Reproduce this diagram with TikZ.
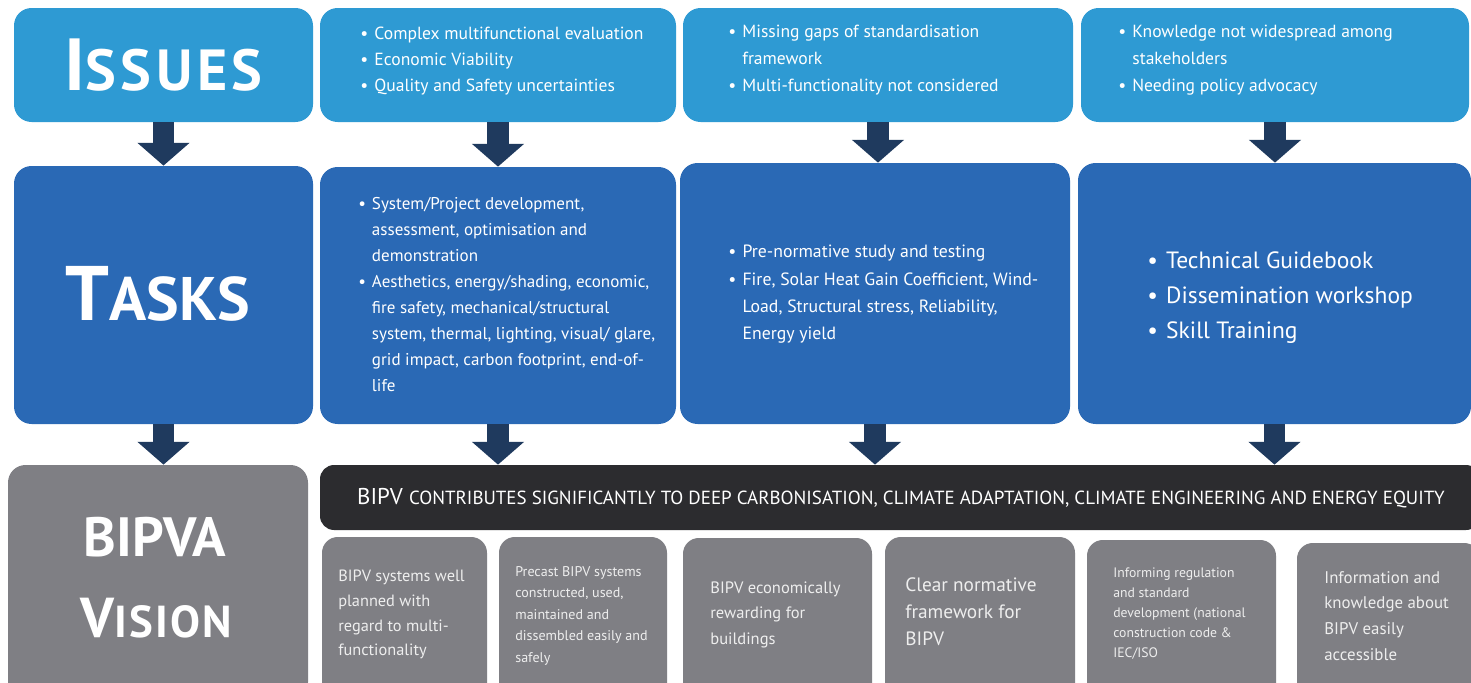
\documentclass[tikz,border=0pt]{standalone}
\usepackage{fontspec}
\setmainfont{PT Sans}
\usetikzlibrary{arrows.meta,fit}

\definecolor{issueblue}{HTML}{2E9AD3}
\definecolor{taskblue}{HTML}{2A69B5}
\definecolor{arrownavy}{HTML}{1F3A5E}
\definecolor{visiongray}{HTML}{7F7F84}
\definecolor{bardark}{HTML}{2C2C2F}
\definecolor{goalwhite}{HTML}{EEEEEE}
\newcommand{\bul}{\makebox[0.8em][l]{\textbullet}}
\newcommand{\ind}{\hspace{0.8em}}

\begin{document}
\begin{tikzpicture}[x=0.02cm, y=-0.02cm,
    issuebox/.style={fill=issueblue, inner sep=0pt, rounded corners=10pt},
    taskbox/.style={fill=taskblue, inner sep=0pt, rounded corners=10pt},
    visionbox/.style={fill=visiongray, inner sep=0pt, rounded corners=10pt},
    goalbox/.style={fill=visiongray, inner sep=0pt, rounded corners=9pt},
    barbox/.style={fill=bardark, inner sep=0pt, rounded corners=8pt},
    headtext/.style={text=white, font=\bfseries, anchor=base, inner sep=0pt},
    itemtext/.style={text=white, align=left, anchor=north west, inner sep=0pt},
    goalitems/.style={text=goalwhite, align=left, anchor=north west, inner sep=0pt},
    bigarrow/.style={draw=arrownavy, line width=12pt, -{Triangle[width=29pt,length=13pt]}}]
\clip (0,0) rectangle (1471,683);
\fill[white] (0,0) rectangle (1471,683);
% fila 1: problemas
\node[issuebox, fit={(14,8) (313,122)}] (iL) {};
\node[issuebox, fit={(320,8) (676,122)}] (iA) {};
\node[issuebox, fit={(683,8) (1073,122)}] (iB) {};
\node[issuebox, fit={(1081,8) (1469,122)}] (iC) {};
% fila 2: tareas
\node[taskbox, fit={(14,166) (313,424)}] (tL) {};
\node[taskbox, fit={(320,167) (676,424)}] (tA) {};
\node[taskbox, fit={(680,163) (1070,424)}] (tB) {};
\node[taskbox, fit={(1078,163) (1471,424)}] (tC) {};
% fila 3: vision
\node[visionbox, fit={(8,465) (308,700)}] (vL) {};
\node[barbox, fit={(320,465) (1480,530)}] (bar) {};
\node[goalbox, fit={(322,537) (487,700)}] (g1) {};
\node[goalbox, fit={(499,537) (667,700)}] (g2) {};
\node[goalbox, fit={(683,538) (872,700)}] (g3) {};
\node[goalbox, fit={(885,537) (1075,700)}] (g4) {};
\node[goalbox, fit={(1087,540) (1276,700)}] (g5) {};
\node[goalbox, fit={(1297,543) (1480,700)}] (g6) {};

\draw[bigarrow] (iL.south) -- (tL.north);
\draw[bigarrow] (iA.south) -- (tA.north);
\draw[bigarrow] (iB.south) -- (iB.south |- tB.north);
\draw[bigarrow] (iC.south) -- (iC.south |- tC.north);
\draw[bigarrow] (tL.south) -- (tL.south |- vL.north);
\draw[bigarrow] (tA.south) -- (tA.south |- bar.north);
\draw[bigarrow] (tB.south) -- (tB.south |- bar.north);
\draw[bigarrow] (tC.south) -- (tC.south |- bar.north);

\node[headtext] (issuesT) at (iL.center |- 0,90) {\addfontfeatures{LetterSpace=8}\fontsize{42}{42}\selectfont I\fontsize{33}{33}\selectfont SSUES};
\node[headtext] (tasksT) at (158,320) {\fontsize{44}{44}\selectfont T\fontsize{35}{35}\selectfont ASKS};
\node[headtext] (bipvaT) at (155,556) {\fontsize{31.5}{31.5}\selectfont BIPVA};
\node[headtext] (visionT) at (156,637) {\addfontfeatures{LetterSpace=5}\fontsize{32}{32}\selectfont V\fontsize{25.5}{25.5}\selectfont ISION};

\node[itemtext, font=\fontsize{10}{14.8}\selectfont] (iAtext) at (360,27)
  {\bul Complex multifunctional evaluation\\ \bul Economic Viability\\ \bul Quality and Safety uncertainties};
\node[itemtext, font=\fontsize{10}{15.2}\selectfont] (iBtext) at (728,25)
  {\bul Missing gaps of standardisation\\ \ind framework\\ \bul Multi-functionality not considered};
\node[itemtext, font=\fontsize{10}{15.2}\selectfont] (iCtext) at (1118,25)
  {\bul Knowledge not widespread among\\ \ind stakeholders\\ \bul Needing policy advocacy};

\node[itemtext, font=\fontsize{9.7}{14.8}\selectfont] (tAtext) at (358,197)
  {\bul System/Project development,\\ \ind assessment, optimisation and\\ \ind demonstration\\
   \bul Aesthetics, energy/shading, economic,\\ \ind fire safety, mechanical/structural\\
   \ind system, thermal, lighting, visual/ glare,\\ \ind grid impact, carbon footprint, end-of-\\ \ind life};
\node[itemtext, font=\fontsize{10.1}{15.5}\selectfont] (tBtext) at (728,245)
  {\bul Pre-normative study and testing\\ \bul Fire, Solar Heat Gain Coefficient, Wind-\\
   \ind Load, Structural stress, Reliability,\\ \ind Energy yield};
\node[itemtext, font=\fontsize{13.4}{19.9}\selectfont] (tCtext) at (1147,251)
  {\bul Technical Guidebook\\ \bul Dissemination workshop\\ \bul Skill Training};

\node[text=white, anchor=base, inner sep=0pt] (barT) at (901,504)
  {\fontsize{13}{13}\selectfont BIPV \fontsize{10.8}{11}\selectfont CONTRIBUTES SIGNIFICANTLY TO DEEP CARBONISATION, CLIMATE ADAPTATION, CLIMATE ENGINEERING AND ENERGY EQUITY};

\node[goalitems, font=\fontsize{9.3}{14}\selectfont] (g1text) at (338,570)
  {BIPV systems well\\ planned with\\ regard to multi-\\ functionality};
\node[goalitems, font=\fontsize{8}{12.2}\selectfont] (g2text) at (515,566)
  {Precast BIPV systems\\ constructed, used,\\ maintained and\\ dissembled easily and\\ safely};
\node[goalitems, font=\fontsize{9.4}{14.5}\selectfont] (g3text) at (710,581)
  {BIPV economically\\ rewarding for\\ buildings};
\node[goalitems, font=\fontsize{11}{15.6}\selectfont] (g4text) at (905,577)
  {Clear normative\\ framework for\\ BIPV};
\node[goalitems, font=\fontsize{7.8}{11.4}\selectfont] (g5text) at (1113,567)
  {Informing regulation\\ and standard\\ development (national\\ construction code \&\\ IEC/ISO};
\node[goalitems, font=\fontsize{9.6}{14.6}\selectfont] (g6text) at (1324,571)
  {Information and\\ knowledge about\\ BIPV easily\\ accessible};
\end{tikzpicture}
\end{document}
